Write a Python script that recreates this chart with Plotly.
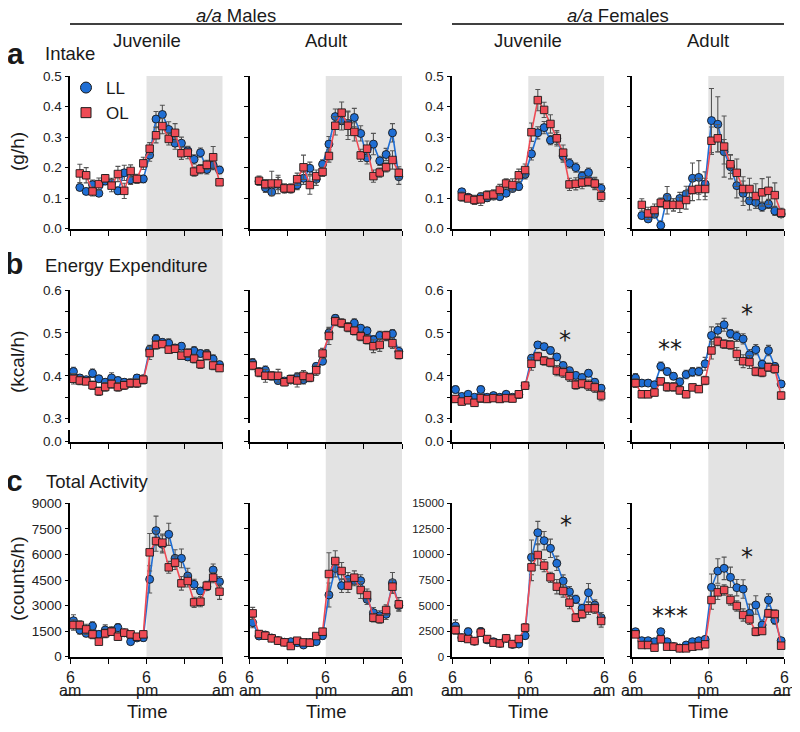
import plotly.graph_objects as go

W, H = 800, 732
# the page body adds an 8 px margin; shift the layout so it lands where intended
OFFX, OFFY = 8, 8

# ---------------- data ----------------
hours_intake = [1.5, 2.5, 3.5, 4.5, 5.5, 6.5, 7.5, 8.5, 9.5, 10.5, 11.5, 12.5,
                13.5, 14.5, 15.5, 16.5, 17.5, 18.5, 19.5, 20.5, 21.5, 22.5, 23.5]
hours = [0.5, 1.5, 2.5, 3.5, 4.5, 5.5, 6.5, 7.5, 8.5, 9.5, 10.5, 11.5, 12.5,
         13.5, 14.5, 15.5, 16.5, 17.5, 18.5, 19.5, 20.5, 21.5, 22.5, 23.5]
x_tick_hours = [0, 12, 24]
x_tick_ampm = ["am", "pm", "am"]

# Intake (g/h)
intake_mj_ll = [0.135, 0.122, 0.144, 0.116, 0.156, 0.15, 0.124, 0.183, 0.16, 0.162, 0.163, 0.241,
                0.359, 0.374, 0.325, 0.28, 0.28, 0.255, 0.227, 0.249, 0.194, 0.208, 0.192]
intake_mj_ll_err = [0.01, 0.01, 0.015, 0.01, 0.012, 0.015, 0.012, 0.025, 0.015, 0.012, 0.012, 0.02,
                    0.025, 0.03, 0.025, 0.02, 0.02, 0.015, 0.015, 0.015, 0.015, 0.015, 0.012]
intake_mj_ol = [0.181, 0.175, 0.122, 0.146, 0.165, 0.141, 0.179, 0.124, 0.189, 0.163, 0.214, 0.262,
                0.306, 0.336, 0.294, 0.314, 0.247, 0.249, 0.187, 0.195, 0.209, 0.234, 0.152]
intake_mj_ol_err = [0.03, 0.025, 0.015, 0.02, 0.012, 0.02, 0.025, 0.025, 0.02, 0.015, 0.02, 0.02,
                    0.025, 0.025, 0.02, 0.03, 0.02, 0.02, 0.015, 0.015, 0.015, 0.035, 0.01]

intake_ma_ll = [0.155, 0.134, 0.12, 0.145, 0.13, 0.13, 0.143, 0.165, 0.198, 0.162, 0.211, 0.277,
                0.367, 0.353, 0.345, 0.364, 0.312, 0.232, 0.277, 0.222, 0.243, 0.314, 0.17]
intake_ma_ll_err = [0.012, 0.015, 0.012, 0.03, 0.01, 0.01, 0.015, 0.02, 0.02, 0.02, 0.015, 0.025,
                    0.025, 0.03, 0.04, 0.03, 0.025, 0.02, 0.035, 0.015, 0.02, 0.03, 0.025]
intake_ma_ol = [0.157, 0.146, 0.148, 0.148, 0.132, 0.132, 0.162, 0.201, 0.143, 0.172, 0.186, 0.238,
                0.337, 0.38, 0.337, 0.317, 0.24, 0.262, 0.172, 0.184, 0.201, 0.225, 0.183]
intake_ma_ol_err = [0.015, 0.015, 0.04, 0.02, 0.015, 0.015, 0.02, 0.04, 0.03, 0.02, 0.015, 0.02,
                    0.03, 0.035, 0.045, 0.03, 0.02, 0.025, 0.02, 0.015, 0.015, 0.03, 0.02]

intake_fj_ll = [0.121, 0.103, 0.094, 0.105, 0.101, 0.107, 0.105, 0.116, 0.132, 0.138, 0.178, 0.245,
                0.314, 0.331, 0.29, 0.296, 0.238, 0.214, 0.2, 0.172, 0.184, 0.148, 0.132]
intake_fj_ll_err = [0.01, 0.01, 0.01, 0.012, 0.012, 0.012, 0.01, 0.01, 0.012, 0.012, 0.015, 0.02,
                    0.02, 0.02, 0.015, 0.02, 0.02, 0.015, 0.015, 0.015, 0.015, 0.015, 0.015]
intake_fj_ol = [0.105, 0.099, 0.094, 0.096, 0.109, 0.112, 0.127, 0.148, 0.143, 0.175, 0.192, 0.316,
                0.421, 0.389, 0.343, 0.296, 0.249, 0.145, 0.147, 0.151, 0.154, 0.148, 0.107]
intake_fj_ol_err = [0.015, 0.01, 0.015, 0.02, 0.015, 0.015, 0.018, 0.015, 0.02, 0.02, 0.02, 0.03,
                    0.035, 0.025, 0.03, 0.025, 0.025, 0.02, 0.02, 0.02, 0.015, 0.02, 0.018]

intake_fa_ll = [0.043, 0.032, 0.047, 0.011, 0.103, 0.078, 0.099, 0.114, 0.165, 0.168, 0.146, 0.354,
                0.342, 0.252, 0.203, 0.141, 0.116, 0.091, 0.086, 0.072, 0.081, 0.058, 0.048]
intake_fa_ll_err = [0.01, 0.01, 0.01, 0.015, 0.035, 0.02, 0.02, 0.025, 0.05, 0.055, 0.04, 0.105,
                    0.09, 0.04, 0.04, 0.04, 0.04, 0.03, 0.02, 0.015, 0.015, 0.015, 0.01]
intake_fa_ol = [0.078, 0.05, 0.061, 0.085, 0.078, 0.078, 0.078, 0.094, 0.127, 0.13, 0.13, 0.288,
                0.296, 0.269, 0.211, 0.183, 0.13, 0.13, 0.107, 0.119, 0.124, 0.11, 0.052]
intake_fa_ol_err = [0.02, 0.02, 0.02, 0.015, 0.03, 0.02, 0.025, 0.03, 0.035, 0.035, 0.035, 0.045,
                    0.045, 0.1, 0.03, 0.045, 0.04, 0.035, 0.04, 0.045, 0.045, 0.04, 0.015]

# Energy expenditure (kcal/h)
ee_mj_ll = [0.41, 0.395, 0.391, 0.406, 0.393, 0.385, 0.395, 0.389, 0.385, 0.383, 0.395, 0.393,
            0.461, 0.486, 0.478, 0.476, 0.465, 0.469, 0.444, 0.458, 0.452, 0.451, 0.439, 0.426]
ee_mj_ll_err = [0.01, 0.008, 0.006, 0.01, 0.008, 0.008, 0.012, 0.008, 0.008, 0.008, 0.008, 0.008,
                0.01, 0.01, 0.008, 0.01, 0.008, 0.008, 0.008, 0.01, 0.008, 0.01, 0.01, 0.008]
ee_mj_ol = [0.393, 0.389, 0.387, 0.378, 0.364, 0.374, 0.381, 0.374, 0.378, 0.383, 0.383, 0.391,
            0.453, 0.472, 0.474, 0.461, 0.463, 0.447, 0.453, 0.44, 0.427, 0.447, 0.424, 0.418]
ee_mj_ol_err = [0.012, 0.01, 0.008, 0.01, 0.01, 0.01, 0.01, 0.01, 0.01, 0.01, 0.01, 0.01,
                0.015, 0.01, 0.008, 0.008, 0.008, 0.008, 0.01, 0.01, 0.01, 0.01, 0.01, 0.008]

ee_ma_ll = [0.43, 0.41, 0.413, 0.4, 0.389, 0.388, 0.39, 0.397, 0.391, 0.396, 0.422, 0.434,
            0.5, 0.534, 0.523, 0.514, 0.523, 0.511, 0.505, 0.484, 0.494, 0.492, 0.498, 0.457]
ee_ma_ll_err = [0.01, 0.008, 0.01, 0.008, 0.008, 0.008, 0.008, 0.01, 0.01, 0.008, 0.008, 0.008,
                0.01, 0.008, 0.008, 0.01, 0.01, 0.008, 0.008, 0.01, 0.01, 0.01, 0.01, 0.01]
ee_ma_ol = [0.424, 0.408, 0.4, 0.4, 0.4, 0.385, 0.392, 0.389, 0.4, 0.396, 0.413, 0.452,
            0.493, 0.527, 0.523, 0.513, 0.505, 0.492, 0.484, 0.469, 0.472, 0.494, 0.476, 0.449]
ee_ma_ol_err = [0.01, 0.01, 0.015, 0.01, 0.015, 0.008, 0.01, 0.015, 0.012, 0.01, 0.012, 0.012,
                0.02, 0.01, 0.01, 0.01, 0.01, 0.01, 0.01, 0.015, 0.015, 0.01, 0.012, 0.01]

ee_fj_ll = [0.368, 0.352, 0.357, 0.35, 0.368, 0.35, 0.354, 0.35, 0.357, 0.35, 0.356, 0.377,
            0.441, 0.472, 0.468, 0.459, 0.444, 0.424, 0.412, 0.401, 0.396, 0.406, 0.385, 0.371]
ee_fj_ll_err = [0.008, 0.006, 0.006, 0.006, 0.008, 0.006, 0.006, 0.006, 0.006, 0.006, 0.006, 0.006,
                0.008, 0.008, 0.008, 0.008, 0.008, 0.008, 0.008, 0.008, 0.008, 0.008, 0.008, 0.008]
ee_fj_ol = [0.346, 0.34, 0.343, 0.337, 0.348, 0.346, 0.348, 0.346, 0.348, 0.347, 0.357, 0.377,
            0.428, 0.445, 0.435, 0.431, 0.412, 0.408, 0.399, 0.379, 0.382, 0.378, 0.373, 0.354]
ee_fj_ol_err = [0.008, 0.008, 0.008, 0.008, 0.01, 0.008, 0.008, 0.008, 0.008, 0.008, 0.008, 0.008,
                0.015, 0.01, 0.01, 0.01, 0.012, 0.012, 0.012, 0.01, 0.01, 0.012, 0.012, 0.012]

ee_fa_ll = [0.395, 0.383, 0.383, 0.379, 0.422, 0.41, 0.399, 0.386, 0.403, 0.409, 0.41, 0.428,
            0.494, 0.506, 0.519, 0.498, 0.492, 0.486, 0.449, 0.461, 0.427, 0.459, 0.422, 0.381]
ee_fa_ll_err = [0.01, 0.008, 0.008, 0.008, 0.01, 0.008, 0.008, 0.008, 0.01, 0.01, 0.01, 0.015,
                0.02, 0.015, 0.015, 0.01, 0.012, 0.012, 0.012, 0.012, 0.01, 0.012, 0.008, 0.008]
ee_fa_ol = [0.383, 0.357, 0.357, 0.361, 0.387, 0.374, 0.374, 0.366, 0.357, 0.373, 0.369, 0.389,
            0.459, 0.48, 0.474, 0.472, 0.451, 0.434, 0.432, 0.41, 0.408, 0.42, 0.416, 0.354]
ee_fa_ol_err = [0.01, 0.008, 0.008, 0.008, 0.008, 0.01, 0.01, 0.008, 0.008, 0.008, 0.008, 0.01,
                0.02, 0.01, 0.01, 0.01, 0.015, 0.015, 0.015, 0.01, 0.01, 0.01, 0.01, 0.008]

# Total activity (counts/h)
act_mj_ll = [2113, 1565, 1370, 1800, 1311, 1565, 1500, 1702, 1400, 880, 1100, 1115,
             4539, 7396, 6593, 7180, 5771, 5771, 4735, 4246, 3854, 4100, 5087, 4402]
act_mj_ll_err = [350, 250, 200, 250, 200, 300, 250, 250, 200, 150, 150, 200,
                 800, 850, 500, 650, 500, 550, 450, 300, 200, 200, 350, 300]
act_mj_ol = [1859, 1859, 1604, 1311, 880, 1370, 1467, 1174, 1409, 1311, 1174, 1311,
             6124, 6789, 6691, 5243, 5517, 4304, 4441, 3189, 3228, 4167, 4637, 3815]
act_mj_ol_err = [300, 250, 300, 250, 150, 250, 200, 200, 200, 200, 150, 200,
                 1100, 600, 500, 350, 400, 400, 350, 300, 300, 250, 300, 450]

act_ma_ll = [1996, 1213, 1272, 1100, 950, 850, 880, 822, 685, 830, 880, 1233,
             3620, 5185, 4167, 4539, 4461, 4461, 3365, 2583, 2400, 2485, 4344, 3000]
act_ma_ll_err = [300, 200, 150, 150, 150, 150, 100, 100, 100, 100, 150, 200,
                 700, 500, 400, 400, 300, 350, 300, 300, 300, 300, 600, 300]
act_ma_ol = [2543, 1330, 1233, 1076, 939, 841, 626, 939, 841, 822, 1213, 1467,
             4852, 5615, 5028, 4167, 4637, 3913, 3620, 2289, 2211, 2739, 4109, 3072]
act_ma_ol_err = [350, 200, 200, 150, 150, 150, 100, 150, 100, 100, 150, 200,
                 1250, 600, 500, 400, 400, 500, 350, 250, 250, 300, 400, 400]

act_fj_ll = [3000, 1859, 2446, 1500, 2446, 1650, 1467, 1300, 1793, 1200, 1239, 2054,
             9717, 12130, 11348, 10598, 9130, 7402, 6359, 5609, 4728, 6261, 5054, 3815]
act_fj_ll_err = [600, 300, 350, 250, 400, 300, 250, 250, 300, 200, 200, 300,
                 1700, 1100, 900, 900, 700, 600, 500, 400, 400, 900, 500, 500]
act_fj_ol = [2609, 1859, 1728, 1533, 2348, 1728, 1370, 1304, 1793, 1239, 1728, 2837,
             8739, 9946, 8902, 7761, 6848, 6424, 5283, 3815, 4174, 4728, 4728, 3489]
act_fj_ol_err = [400, 300, 300, 250, 300, 250, 200, 200, 250, 200, 250, 400,
                 1300, 1000, 600, 500, 700, 600, 600, 400, 400, 600, 500, 600]

act_fa_ll = [2446, 1565, 1565, 1467, 2446, 1467, 1000, 850, 1141, 1467, 1565, 1696,
             6783, 8380, 8641, 7761, 6750, 6620, 4239, 5054, 3098, 5543, 3587, 1565]
act_fa_ll_err = [300, 250, 200, 200, 250, 200, 150, 150, 150, 150, 150, 150,
                 1300, 1200, 1100, 1000, 800, 900, 900, 900, 500, 600, 400, 300]
act_fa_ol = [2185, 1141, 1141, 880, 1696, 978, 978, 815, 815, 978, 1043, 1207,
             5543, 6293, 6522, 5543, 4957, 4076, 3652, 2446, 2511, 4239, 4174, 1076]
act_fa_ol_err = [300, 200, 200, 150, 200, 150, 150, 150, 150, 150, 150, 150,
                 900, 700, 500, 500, 500, 600, 500, 400, 300, 400, 400, 200]

# ---------------- style / layout ----------------
FONT = "Liberation Sans, Arial, Helvetica, sans-serif"
BLUE = "#1f6ed4"
RED = "#ef4b55"
EDGE = "#1a1a1a"
SHADE = "#e3e3e3"
ERRC = "#555555"
TXT = "#1a1a1a"


def fx(px):
    return (px - OFFX) / W


def fy(py):
    return 1 - (py - OFFY) / H


cols_px = [(70.3, 222.7), (249.5, 402.0), (452.3, 604.3), (632.3, 784.3)]
row_a_px = (76.0, 228.7)
row_b_px = (290.0, 422.7)
row_b_stub_px = (430.0, 441.7)
row_c_px = (503.3, 656.7)

panels = [
    (0, 0, hours_intake, intake_mj_ll, intake_mj_ll_err, intake_mj_ol, intake_mj_ol_err),
    (0, 1, hours_intake, intake_ma_ll, intake_ma_ll_err, intake_ma_ol, intake_ma_ol_err),
    (0, 2, hours_intake, intake_fj_ll, intake_fj_ll_err, intake_fj_ol, intake_fj_ol_err),
    (0, 3, hours_intake, intake_fa_ll, intake_fa_ll_err, intake_fa_ol, intake_fa_ol_err),
    (1, 0, hours, ee_mj_ll, ee_mj_ll_err, ee_mj_ol, ee_mj_ol_err),
    (1, 1, hours, ee_ma_ll, ee_ma_ll_err, ee_ma_ol, ee_ma_ol_err),
    (1, 2, hours, ee_fj_ll, ee_fj_ll_err, ee_fj_ol, ee_fj_ol_err),
    (1, 3, hours, ee_fa_ll, ee_fa_ll_err, ee_fa_ol, ee_fa_ol_err),
    (2, 0, hours, act_mj_ll, act_mj_ll_err, act_mj_ol, act_mj_ol_err),
    (2, 1, hours, act_ma_ll, act_ma_ll_err, act_ma_ol, act_ma_ol_err),
    (2, 2, hours, act_fj_ll, act_fj_ll_err, act_fj_ol, act_fj_ol_err),
    (2, 3, hours, act_fa_ll, act_fa_ll_err, act_fa_ol, act_fa_ol_err),
]

fig = go.Figure()
layout = {}

axis_common = dict(showline=True, linecolor="black", linewidth=1.6, ticks="outside",
                   ticklen=4, tickwidth=1.4, tickcolor="black", showgrid=False,
                   zeroline=False, fixedrange=True, automargin=False)
tickfont = dict(family=FONT, size=13.5, color="#222222")

for i, (r, c, xs, ll, ll_e, ol, ol_e) in enumerate(panels):
    n = i + 1
    x0, x1 = cols_px[c]
    show_labels = c in (0, 2)
    tf = tickfont
    if r == 0:
        ydom = [fy(row_a_px[1]), fy(row_a_px[0])]
        yr = [0, 0.5]
        tv = [0, 0.1, 0.2, 0.3, 0.4, 0.5]
        tt = ["0.0", "0.1", "0.2", "0.3", "0.4", "0.5"]
        xanchor = "y%d" % n
    elif r == 1:
        ydom = [fy(row_b_px[1]), fy(row_b_px[0])]
        yr = [0.2907, 0.6]
        tv = [0.3, 0.35, 0.4, 0.45, 0.5, 0.55, 0.6]
        tt = ["0.3", "", "0.4", "", "0.5", "", "0.6"]
        stub = 12 + c + 1
        xanchor = "y%d" % stub
        layout["yaxis%d" % stub] = dict(
            axis_common, domain=[fy(row_b_stub_px[1]), fy(row_b_stub_px[0])],
            range=[0, 1], tickvals=[0], ticktext=["0.0"], anchor="x%d" % n,
            showticklabels=show_labels, tickfont=tickfont)
        # empty trace so the broken-axis stub subplot (and the x axis on it) is drawn
        fig.add_trace(go.Scatter(x=[None], y=[None], mode="markers", showlegend=False,
                                 hoverinfo="skip", xaxis="x%d" % n, yaxis="y%d" % stub))
    else:
        ydom = [fy(row_c_px[1]), fy(row_c_px[0])]
        if c < 2:
            yr = [0, 9000]
            tv = [0, 1500, 3000, 4500, 6000, 7500, 9000]
        else:
            yr = [0, 15000]
            tv = [0, 2500, 5000, 7500, 10000, 12500, 15000]
            tf = dict(tickfont, size=11.5)
        tt = [str(v) for v in tv]
        xanchor = "y%d" % n

    layout["xaxis%d" % n] = dict(axis_common, domain=[fx(x0), fx(x1)], range=[0, 24],
                                 tickvals=[0, 6, 12, 18, 24], showticklabels=False,
                                 anchor=xanchor, ticklen=5)
    layout["yaxis%d" % n] = dict(axis_common, domain=ydom, range=yr, tickvals=tv, ticktext=tt,
                                 showticklabels=show_labels, tickfont=tf, anchor="x%d" % n)

    fig.add_trace(go.Scatter(
        x=xs, y=ll, mode="lines+markers", name="LL", showlegend=False,
        xaxis="x%d" % n, yaxis="y%d" % n, cliponaxis=False,
        line=dict(color=BLUE, width=1.6),
        marker=dict(symbol="circle", size=8, color=BLUE, line=dict(color=EDGE, width=0.9)),
        error_y=dict(type="data", array=ll_e, color=ERRC, thickness=1.1, width=2.5)))
    fig.add_trace(go.Scatter(
        x=xs, y=ol, mode="lines+markers", name="OL", showlegend=False,
        xaxis="x%d" % n, yaxis="y%d" % n, cliponaxis=False,
        line=dict(color=RED, width=1.6),
        marker=dict(symbol="square", size=7.5, color=RED, line=dict(color=EDGE, width=0.9)),
        error_y=dict(type="data", array=ol_e, color=ERRC, thickness=1.1, width=2.5)))

# legend entries
fig.add_trace(go.Scatter(x=[None], y=[None], mode="markers", name="LL", xaxis="x1", yaxis="y1",
                         marker=dict(symbol="circle", size=11, color=BLUE,
                                     line=dict(color=EDGE, width=1))))
fig.add_trace(go.Scatter(x=[None], y=[None], mode="markers", name="OL", xaxis="x1", yaxis="y1",
                         marker=dict(symbol="square", size=10, color=RED,
                                     line=dict(color=EDGE, width=1))))

# shading (dark phase 6pm-6am), continuous through all rows
shapes = []
for c in range(4):
    shapes.append(dict(type="rect", xref="x%d" % (c + 1), yref="paper", x0=12, x1=24,
                       y0=fy(row_c_px[1]), y1=fy(row_a_px[0]), fillcolor=SHADE,
                       line=dict(width=0), layer="below"))
# header lines
shapes.append(dict(type="line", xref="paper", yref="paper", x0=fx(70), x1=fx(402),
                   y0=fy(24), y1=fy(24), line=dict(color="black", width=1.4)))
shapes.append(dict(type="line", xref="paper", yref="paper", x0=fx(452), x1=fx(784),
                   y0=fy(24), y1=fy(24), line=dict(color="black", width=1.4)))
# bottom lines
for (x0, x1) in cols_px:
    shapes.append(dict(type="line", xref="paper", yref="paper", x0=fx(x0 - 7), x1=fx(x1 + 6),
                       y0=fy(695), y1=fy(695), line=dict(color="black", width=1.4)))

ann = []


def text(x, y, t, size, xanchor="center", **kw):
    d = dict(xref="paper", yref="paper", x=fx(x), y=fy(y), text=t, showarrow=False,
             xanchor=xanchor, yanchor="middle",
             font=dict(family=FONT, size=size, color=TXT))
    d.update(kw)
    ann.append(d)


text(236, 15.5, "<i>a/a</i> Males", 18.5)
text(618, 15.5, "<i>a/a</i> Females", 18.5)
for c, lab in enumerate(["Juvenile", "Adult", "Juvenile", "Adult"]):
    x0, x1 = cols_px[c]
    text((x0 + x1) / 2, 40, lab, 18.5)
    text((x0 + x1) / 2, 711, "Time", 18.5)

text(15, 53, "<b>a</b>", 30)
text(43, 53, "Intake", 18.5, xanchor="left")
text(14, 264, "<b>b</b>", 30)
text(43, 265, "Energy Expenditure", 18.5, xanchor="left")
text(14, 480, "<b>c</b>", 30)
text(44, 481, "Total Activity", 18.5, xanchor="left")

text(17, 152, "(g/h)", 19, textangle=-90)
text(17, 362, "(kcal/h)", 19, textangle=-90)
text(17, 579, "(counts/h)", 19, textangle=-90)

# significance marks
STAR = "DejaVu Sans, Liberation Sans, sans-serif"
for (x, y, t) in [(565, 340, "*"), (670, 349, "**"), (747, 314, "*"),
                  (566, 525, "*"), (670, 616, "***"), (747, 557, "*")]:
    ann.append(dict(xref="paper", yref="paper", x=fx(x), y=fy(y), text=t, showarrow=False,
                    xanchor="center", yanchor="middle",
                    font=dict(family=STAR, size=24, color=TXT)))

# x tick labels on bottom row
for c in range(4):
    for h, ap in zip(x_tick_hours, x_tick_ampm):
        ann.append(dict(xref="x%d" % (9 + c), yref="paper", x=h, y=fy(677), text="6",
                        xanchor="center", yanchor="middle", showarrow=False,
                        font=dict(family=FONT, size=16, color=TXT)))
        ann.append(dict(xref="x%d" % (9 + c), yref="paper", x=h, y=fy(690), text=ap,
                        xanchor="center", yanchor="middle", showarrow=False,
                        font=dict(family=FONT, size=16, color=TXT)))

fig.update_layout(
    width=W, height=H, margin=dict(l=0, r=0, t=0, b=0, autoexpand=False),
    paper_bgcolor="white", plot_bgcolor="rgba(0,0,0,0)",
    font=dict(family=FONT, color=TXT),
    showlegend=True,
    legend=dict(x=fx(66), y=fy(70), xanchor="left", yanchor="top",
                bgcolor="rgba(0,0,0,0)", font=dict(family=FONT, size=17),
                itemwidth=30, tracegroupgap=0),
    shapes=shapes, annotations=ann,
    **layout)

fig.write_html("out.html")
